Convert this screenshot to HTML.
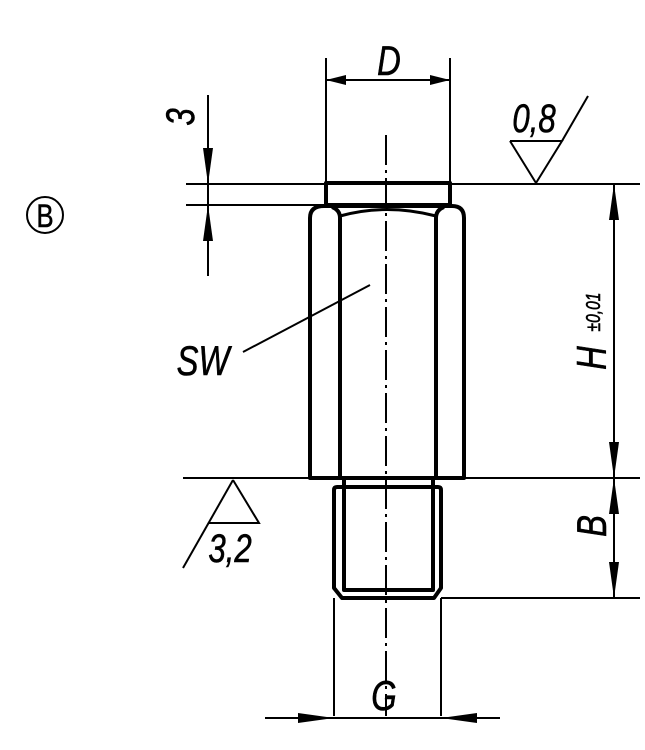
<!DOCTYPE html>
<html><head><style>html,body{margin:0;padding:0;background:#fff}svg{display:block}
text{font-family:"Liberation Sans",sans-serif;font-style:italic;fill:#000;stroke:#000;stroke-width:0.6}</style></head>
<body>
<svg width="645" height="750" viewBox="0 0 645 750" xmlns="http://www.w3.org/2000/svg">
<g stroke="#000" fill="none" stroke-width="2">
<line x1="186" y1="184" x2="640" y2="184"/>
<line x1="186" y1="205" x2="326" y2="205"/>
<line x1="183" y1="478" x2="640" y2="478"/>
<line x1="441" y1="598" x2="640" y2="598"/>
<line x1="326" y1="58" x2="326" y2="184"/>
<line x1="450" y1="58" x2="450" y2="184"/>
<line x1="334" y1="598" x2="334" y2="716"/>
<line x1="441" y1="598" x2="441" y2="716"/>
<line x1="326" y1="80" x2="450" y2="80"/>
<line x1="208" y1="95" x2="208" y2="276"/>
<line x1="614" y1="184" x2="614" y2="598"/>
<line x1="265" y1="718" x2="500" y2="718"/>
<line x1="386" y1="135" x2="386" y2="716" stroke-dasharray="30,5,3,5"/>
<polyline points="510,141 562,141 536,183 510,141"/>
<line x1="562" y1="141" x2="588" y2="96"/>
<polyline points="233,480 259,523 209,523"/>
<line x1="233" y1="480" x2="183" y2="568"/>
<line x1="243" y1="352" x2="370" y2="285"/>
<circle cx="45" cy="215" r="18"/>
</g>
<g fill="#000">
<polygon points="326,80 346,75 346,85"/><polygon points="450,80 430,75 430,85"/>
<polygon points="208,184 203,148 213,148"/><polygon points="208,205 203,241 213,241"/>
<polygon points="614,184 609,220 619,220"/><polygon points="614,478 609,442 619,442"/>
<polygon points="614,478 609,514 619,514"/><polygon points="614,598 609,562 619,562"/>
<polygon points="334,718 298,713 298,723"/><polygon points="441,718 477,713 477,723"/>
</g>
<g stroke="#000" fill="none" stroke-width="4" stroke-linejoin="round">
<rect x="326" y="183" width="124" height="22"/>
<path d="M310,478 V218 Q310,206 324,206 H452 Q464,206 464,218 V478 Z"/>
<path d="M340,478 V218 Q340,210 332,207 M436,478 V218 Q436,210 444,207"/>
<path d="M340,216 Q386,203 436,216" stroke-width="3"/>
<path d="M344,478 V488 M433,478 V488"/>
<path d="M334,490 Q334,487 337,487 H438 Q441,487 441,490 V588 L434,598 H342 L334,588 Z"/>
<path d="M344,488 V590 H433 V488"/>
</g>
<text font-size="42" text-anchor="middle" transform="translate(389 75) scale(0.78 1)">D</text>
<text font-size="40" text-anchor="middle" transform="translate(194 117) rotate(-90) scale(0.78 1)">3</text>
<text font-size="40" text-anchor="middle" transform="translate(534 132) scale(0.78 1)">0,8</text>
<text font-size="40" text-anchor="middle" transform="translate(230 562) scale(0.78 1)">3,2</text>
<text font-size="42" text-anchor="middle" transform="translate(203 375) scale(0.78 1)">SW</text>
<text font-size="42" text-anchor="middle" transform="translate(384 710) scale(0.78 1)">G</text>
<text font-size="42" text-anchor="middle" transform="translate(606 358) rotate(-90) scale(0.78 1)">H</text>
<text font-size="20" text-anchor="middle" transform="translate(600 312) rotate(-90) scale(0.78 1)">±0,01</text>
<text font-size="42" text-anchor="middle" transform="translate(606 526) rotate(-90) scale(0.78 1)">B</text>
<text font-size="32" text-anchor="middle" transform="translate(45 227) scale(0.8 1)" style="font-style:normal">B</text>
</svg>
</body></html>
